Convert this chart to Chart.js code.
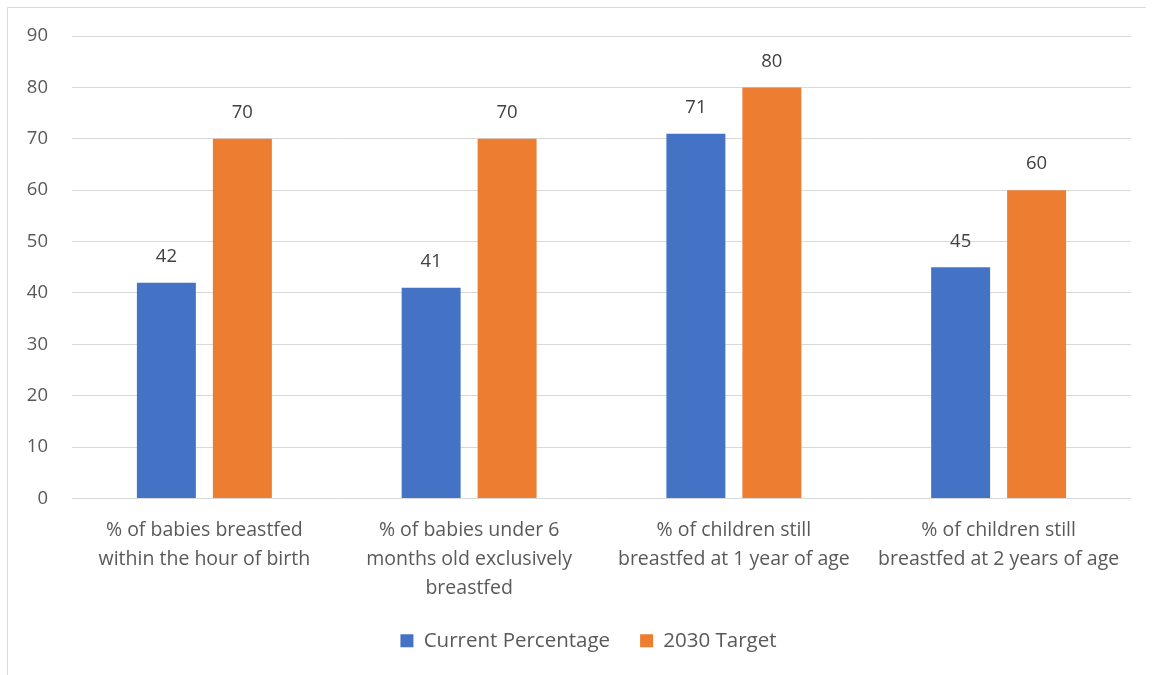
<!DOCTYPE html>
<html>
<head>
<meta charset="utf-8">
<script src="https://cdn.jsdelivr.net/npm/chart.js@4.4.0/dist/chart.umd.min.js"></script>
<style>
  html, body { margin:0; padding:0; background:#fff; }
  #wrap { position:absolute; left:0; top:0; width:1154px; height:675px; }
  #frame { position:absolute; left:7px; top:7px; width:1138px; height:680px; border-left:1px solid #d9d9d9; border-top:1px solid #d9d9d9; }
</style>
</head>
<body>
<div id="wrap">
  <div id="frame"></div>
  <canvas id="chart" width="1154" height="675"></canvas>
</div>
<script>
// chart values
const categories = [
  ["% of babies breastfed", "within the hour of birth"],
  ["% of babies under 6", "months old exclusively", "breastfed"],
  ["% of children still", "breastfed at 1 year of age"],
  ["% of children still", "breastfed at 2 years of age"]
];
const currentPct = [42, 41, 71, 45];
const target2030 = [70, 70, 80, 60];
const seriesNames = ["Current Percentage", "2030 Target"];

const FONT = "'Open Sans', sans-serif";

// small plugin for the value labels above the bars
const valueLabels = {
  id: "valueLabels",
  afterLayout(chart){
    // legend is centred under the plot, not the whole canvas
    chart.legend.left += 46;
  },
  afterDatasetsDraw(chart){
    const ctx = chart.ctx;
    ctx.save();
    ctx.font = "18.5px " + FONT;
    ctx.fillStyle = "#404040";
    ctx.textAlign = "center";
    ctx.textBaseline = "middle";
    chart.data.datasets.forEach((ds, i)=>{
      chart.getDatasetMeta(i).data.forEach((bar, j)=>{
        ctx.fillText(ds.data[j], bar.x, bar.y - 26);
      });
    });
    ctx.restore();
  }
};

new Chart(document.getElementById("chart"), {
  type: "bar",
  data: {
    labels: categories,
    datasets: [
      { label: seriesNames[0], data: currentPct, backgroundColor: "#4472c4" },
      { label: seriesNames[1], data: target2030, backgroundColor: "#ed7d31" }
    ]
  },
  options: {
    responsive: false,
    animation: false,
    layout: { padding: { left: 0, right: 23, top: 36, bottom: 14 } },
    datasets: { bar: { categoryPercentage: 0.574, barPercentage: 0.776 } },
    scales: {
      x: {
        grid: { display: false },
        border: { display: false },
        ticks: { color: "#595959", font: { family: FONT, size: 19.5, lineHeight: 1.5 }, padding: 9, maxRotation: 0, autoSkip: false },
        afterFit(s){ s.height = 102; }
      },
      y: {
        min: 0, max: 90,
        grid: { color: "#d9d9d9", drawTicks: false },
        border: { display: false },
        ticks: { stepSize: 10, color: "#595959", font: { family: FONT, size: 18.5 }, padding: 24 },
        afterFit(s){ s.width = 72; }
      }
    },
    plugins: {
      legend: {
        position: "bottom",
        labels: { color: "#595959", font: { family: FONT, size: 20.5 }, boxWidth: 13, boxHeight: 13, padding: 30 }
      },
      tooltip: { enabled: false }
    }
  },
  plugins: [valueLabels]
});
</script>
</body>
</html>
